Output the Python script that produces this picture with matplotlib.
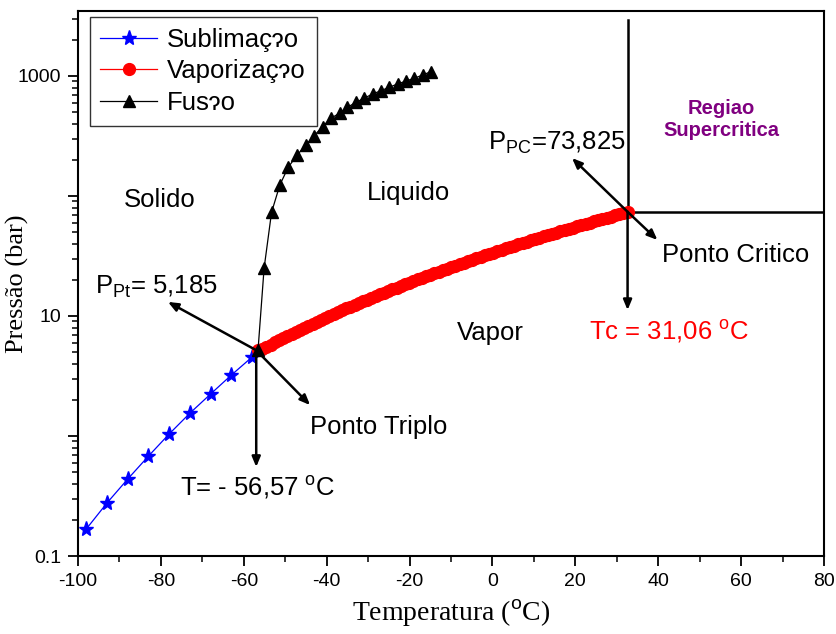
import numpy as np
import matplotlib
matplotlib.use("Agg")
import matplotlib.pyplot as plt
from matplotlib.ticker import FixedLocator, FuncFormatter, MultipleLocator

plt.rcParams['font.family'] = ['Liberation Sans', 'DejaVu Sans']
plt.rcParams['mathtext.fontset'] = 'custom'
plt.rcParams['mathtext.rm'] = 'Liberation Sans'
plt.rcParams['mathtext.it'] = 'Liberation Sans'
plt.rcParams['axes.unicode_minus'] = False

# sublimacao (estrelas azuis)
t_sub = [-98, -93, -88, -83, -78, -73, -68, -63, -58]
p_sub = [0.168, 0.277, 0.438, 0.68, 1.04, 1.55, 2.24, 3.22, 4.55]

# vaporizacao (circulos vermelhos), ponto triplo -> ponto critico
t_vap = np.linspace(-56.57, 32.6, 89)
p_vap = [5.185, 5.30, 5.54, 5.78, 6.03, 6.29, 6.55, 6.82, 7.10, 7.39, 7.69,
         7.99, 8.31, 8.63, 8.96, 9.30, 9.66, 10.02, 10.39, 10.77, 11.16,
         11.56, 11.97, 12.39, 12.82, 13.27, 13.72, 14.19, 14.67, 15.16, 15.66,
         16.18, 16.71, 17.25, 17.80, 18.37, 18.95, 19.55, 20.16, 20.78, 21.42,
         22.07, 22.74, 23.42, 24.12, 24.83, 25.56, 26.30, 27.06, 27.84, 28.63,
         29.44, 30.27, 31.11, 31.97, 32.85, 33.75, 34.66, 35.59, 36.54, 37.51,
         38.50, 39.51, 40.54, 41.58, 42.65, 43.74, 44.85, 45.99, 47.14, 48.32,
         49.52, 50.74, 51.99, 53.26, 54.55, 55.87, 57.21, 58.58, 59.98, 61.40,
         62.85, 64.34, 65.85, 67.39, 68.97, 70.59, 72.24, 73.825]

# fusao (triangulos pretos)
t_fus = [-56.57, -55.1, -53.3, -51.3, -49.3, -47.1, -45.0, -43.1, -41.0, -39.0,
         -36.9, -35.0, -32.9, -31.0, -28.9, -26.9, -24.9, -22.9, -20.8, -18.9,
         -16.8, -14.9]
p_fus = [5.185, 25.0, 73.1, 123.5, 173, 220, 266, 316, 378, 444,
         489, 548, 604, 652, 708, 754, 805, 858, 908, 957,
         1019, 1086]

t_tp, p_tp = -57.0, 5.185
t_cp, p_cp = 32.6, 73.825

fig = plt.figure(figsize=(8.37, 6.34), dpi=100)
ax = fig.add_axes([0.0932, 0.123, 0.8913, 0.8597])

ax.plot(t_sub, p_sub, color='blue', lw=0.9, marker='*', ms=11, mec='blue',
        mfc='blue', label='Sublimaçɂo', zorder=3)
ax.plot(t_vap, p_vap, color='red', lw=0.9, marker='o', ms=8.5, mec='red',
        mfc='red', label='Vaporizaçɂo', zorder=3)
ax.plot(t_fus, p_fus, color='black', lw=0.9, marker='^', ms=8.5, label='Fusɂo',
        zorder=4)

ax.set_yscale('log')
ax.set_xlim(-100, 80)
ax.set_ylim(0.1, 3480)

ax.xaxis.set_major_locator(MultipleLocator(20))
ax.xaxis.set_minor_locator(MultipleLocator(10))
ax.yaxis.set_major_locator(FixedLocator([0.1, 1, 10, 100, 1000]))
ax.yaxis.set_minor_locator(FixedLocator([m * 10.0 ** e for e in range(-1, 4)
                                         for m in range(2, 10)]))
lab = {0.1: '0.1', 10: '10', 1000: '1000'}
ax.yaxis.set_major_formatter(FuncFormatter(
    lambda v, p: next((s for k, s in lab.items() if abs(v - k) < 1e-9 * k), '')))
ax.yaxis.set_minor_formatter(FuncFormatter(lambda v, p: ''))

ax.tick_params(which='major', direction='out', length=7, width=1.3,
               labelsize=14, pad=5)
ax.tick_params(which='minor', direction='out', length=4, width=1.1)
for s in ax.spines.values():
    s.set_linewidth(1.5)

ax.set_xlabel('Temperatura ($^{\\rm o}$C)', family='Liberation Serif',
              fontsize=20, labelpad=5)
ax.set_ylabel('Pressão (bar)', family='Liberation Serif', fontsize=19,
              labelpad=0)
ax.yaxis.set_label_coords(-0.066, 0.5)

# linhas do ponto critico
ax.plot([t_cp, t_cp], [p_cp, 2900], color='black', lw=1.8, zorder=2)
ax.plot([t_cp, 80], [p_cp, p_cp], color='black', lw=1.8, zorder=2)

arr = dict(arrowstyle='-|>,head_length=0.6,head_width=0.25', color='black',
           lw=1.8, shrinkA=0, shrinkB=0)
ax.annotate('', xy=(t_cp, 11.2), xytext=(t_cp, p_cp), arrowprops=arr)
ax.annotate('', xy=(19.2, 207), xytext=(t_cp, p_cp), arrowprops=arr)
ax.annotate('', xy=(39.8, 43), xytext=(t_cp, p_cp), arrowprops=arr)

# setas do ponto triplo
ax.annotate('', xy=(t_tp, 0.552), xytext=(t_tp, p_tp), arrowprops=arr)
ax.annotate('', xy=(-78.3, 13.1), xytext=(t_tp, p_tp), arrowprops=arr)
ax.annotate('', xy=(-44.0, 1.81), xytext=(t_tp, p_tp), arrowprops=arr)

fs = 18.5
ax.text(-80.2, 92.6, 'Solido', fontsize=fs, ha='center', va='center')
ax.text(-20.3, 106, 'Liquido', fontsize=fs, ha='center', va='center')
ax.text(-0.5, 7.2, 'Vapor', fontsize=fs, ha='center', va='center')
ax.text(55.2, 430, 'Regiao\nSupercritica', fontsize=14.5, fontweight='bold',
        color='#800080', ha='center', va='center', linespacing=1.2)
ax.text(-1.0, 276, 'P$_{PC}$=73,825', fontsize=fs, ha='left', va='center')
ax.text(41.0, 32.2, 'Ponto Critico', fontsize=fs, ha='left', va='center')
ax.text(42.5, 7.36, 'Tc = 31,06 $^{\\rm o}$C', fontsize=fs, color='red',
        ha='center', va='center')
ax.text(-96, 17.4, 'P$_{Pt}$= 5,185', fontsize=fs, ha='left', va='center')
ax.text(-44.0, 1.19, 'Ponto Triplo', fontsize=fs, ha='left', va='center')
ax.text(-56.7, 0.369, 'T= - 56,57 $^{\\rm o}$C', fontsize=fs, ha='center',
        va='center')

leg = ax.legend(loc='upper left', bbox_to_anchor=(0.0155, 0.989), fontsize=18.5,
                frameon=True, fancybox=False, edgecolor='black',
                handlelength=2.2, handletextpad=0.4, borderpad=0.42,
                labelspacing=0.3, borderaxespad=0)
leg.get_frame().set_linewidth(1.0)

fig.savefig('out.png', dpi=100)
